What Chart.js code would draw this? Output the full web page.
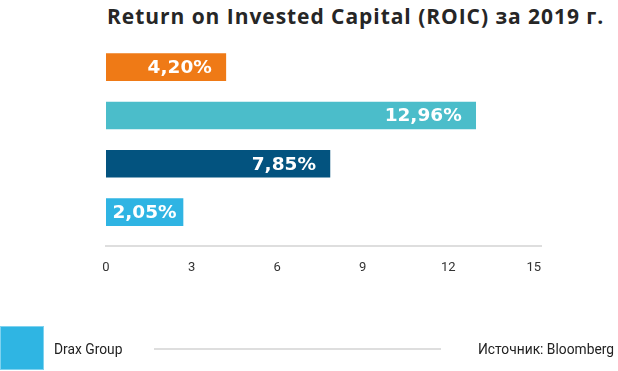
<!DOCTYPE html>
<html>
<head>
<meta charset="utf-8">
<script src="https://cdn.jsdelivr.net/npm/chart.js@4"></script>
<style>
  html, body { margin: 0; padding: 0; background: #fff; }
  body { width: 618px; height: 371px; position: relative; overflow: hidden; font-family: Roboto, sans-serif; }
  #title { position: absolute; left: 107px; top: 1.5px; font-family: "Open Sans", sans-serif; font-weight: 700; font-size: 21px; letter-spacing: 0.95px; color: #262626; white-space: nowrap; }
  #wrap { position: absolute; left: 0; top: 0; width: 618px; height: 371px; }
  #sq { position: absolute; left: 0; top: 326px; width: 42px; height: 42px; background: #2FB5E3; border: 1px solid #7FD2EF; }
  #lg { position: absolute; left: 54px; top: 341px; font-size: 13.8px; color: #222; line-height: 16px; }
  #rule { position: absolute; left: 154px; top: 348px; width: 287px; height: 2px; background: #dedede; }
  #src { position: absolute; right: 4px; top: 341px; font-size: 13.8px; color: #222; line-height: 16px; }
</style>
</head>
<body>
<div id="title">Return on Invested Capital (ROIC) за 2019 г.</div>
<div id="wrap"><canvas id="c" width="618" height="371"></canvas></div>
<div id="sq"></div>
<div id="lg">Drax Group</div>
<div id="rule"></div>
<div id="src">Источник: Bloomberg</div>
<script>
const categories = ["Компания A", "Компания B", "Компания C", "Drax Group"];
const roicValues = [4.20, 12.96, 7.85, 2.05];
const barColors = ["#EF7A16", "#4BBDCA", "#03537F", "#2FB4E3"];
const tickValues = [0, 3, 6, 9, 12, 15];

Chart.defaults.font.family = "Roboto, sans-serif";

const valueLabels = {
  id: 'valueLabels',
  afterDatasetsDraw(chart) {
    const ctx = chart.ctx;
    const meta = chart.getDatasetMeta(0);
    ctx.save();
    ctx.font = "700 18.5px 'DejaVu Sans', sans-serif";
    ctx.fillStyle = "#ffffff";
    ctx.textBaseline = "middle";
    ctx.textAlign = "right";
    meta.data.forEach((bar, i) => {
      const txt = roicValues[i].toFixed(2).replace('.', ',') + '%';
      const w = ctx.measureText(txt).width;
      let x = bar.x - 14;
      if (x - w < bar.base + 5) x = (bar.x + bar.base) / 2 + w / 2;
      ctx.fillText(txt, x, bar.y + 1);
    });
    ctx.restore();
  }
};

new Chart(document.getElementById('c'), {
  type: 'bar',
  data: {
    labels: categories,
    datasets: [{
      label: 'ROIC',
      data: roicValues.map((v, i) => ({ x: v, y: i })),
      backgroundColor: barColors,
      barThickness: 27,
      minBarLength: 77,
      borderWidth: 0
    }]
  },
  options: {
    indexAxis: 'y',
    responsive: false,
    animation: false,
    layout: { padding: { left: 106, right: 77, top: 43, bottom: 81.5 } },
    plugins: { legend: { display: false }, tooltip: { enabled: false }, title: { display: false } },
    scales: {
      y: {
        type: 'linear',
        display: false,
        offset: false,
        reverse: true,
        min: -0.5,
        max: 3.7
      },
      x: {
        type: 'linear',
        min: 0,
        max: 15.25,
        afterBuildTicks: (scale) => { scale.ticks = tickValues.map(v => ({ value: v })); },
        grid: { display: false, drawTicks: false, tickLength: 0 },
        border: { display: true, color: '#dedede', width: 2 },
        ticks: { color: '#333', font: { size: 13 }, padding: 14, maxRotation: 0 }
      }
    }
  },
  plugins: [valueLabels]
});
</script>
</body>
</html>
